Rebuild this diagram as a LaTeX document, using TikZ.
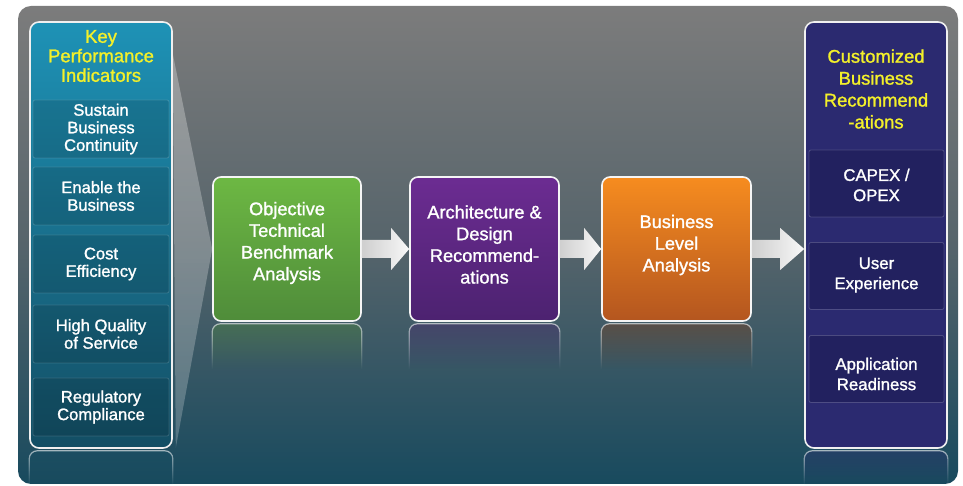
\documentclass[tikz,border=0pt]{standalone}
\usepackage{fontspec}
\setmainfont{Liberation Sans}
\newfontfamily\boldish{Liberation Sans}[FakeBold=1.3]
\usetikzlibrary{fadings,calc}
\definecolor{bgtop}{HTML}{7C7C7C}
\definecolor{bgmid}{HTML}{56646B}
\definecolor{bgbot}{HTML}{184A5E}
\definecolor{kpitop}{HTML}{1E92B6}
\definecolor{kpibot}{HTML}{134E64}
\definecolor{navy}{HTML}{2B2A70}
\definecolor{navydk}{HTML}{1C1B52}
\definecolor{gtop}{HTML}{6DB843}
\definecolor{gbot}{HTML}{4F8C3A}
\definecolor{ptop}{HTML}{6C2C92}
\definecolor{pbot}{HTML}{4C2270}
\definecolor{otop}{HTML}{F68C1F}
\definecolor{obot}{HTML}{B4561F}
\definecolor{ktxt}{HTML}{F3F02A}
\tikzfading[name=fadedown, top color=transparent!15, bottom color=transparent!100]
\tikzfading[name=wedgefade, top color=transparent!80, middle color=transparent!5, bottom color=transparent!90]
\tikzset{
  panel/.style={rounded corners=9pt, draw=white!88!gray, line width=1.6pt,
    minimum width=142pt, minimum height=426pt, inner sep=0pt},
  kpisub/.style={fill=black, fill opacity=.13, draw=white, draw opacity=.15,
    line width=.8pt, rounded corners=2pt, minimum width=136pt, minimum height=58pt,
    text=white, text opacity=1, align=center, inner sep=0pt,
    font=\boldish\fontsize{16.6}{17.6}\selectfont},
  navysub/.style={fill=navydk, fill opacity=.55, draw=white, draw opacity=.18,
    line width=.8pt, rounded corners=2pt, minimum width=135pt, minimum height=67pt,
    inner sep=0pt},
  mainbox/.style={rounded corners=8pt, draw=white!92!gray, line width=1.6pt,
    minimum width=148pt, minimum height=144pt, inner sep=0pt},
  boxtext/.style={text=white, align=center, inner sep=0pt,
    font=\boldish\fontsize{18.2}{21.7}\selectfont},
  subtext/.style={text=white, align=center, inner sep=0pt,
    font=\boldish\fontsize{16.8}{20.2}\selectfont},
  headtext/.style={text=ktxt, align=center, inner sep=0pt},
  blockarrow/.style={left color=white!62!gray, right color=white!94!gray},
  reflect/.style={draw=white, draw opacity=.7, line width=1.2pt,
    fill opacity=.45, path fading=fadedown, rounded corners=8pt}
}
\begin{document}
\begin{tikzpicture}[x=1pt,y=1pt]
\useasboundingbox (0,0) rectangle (963,486);
% background
\shade[rounded corners=13pt, top color=bgtop, bottom color=bgbot, middle color=bgmid]
  (18,2) rectangle (958,480);

% main boxes
\node[mainbox, top color=gtop, bottom color=gbot] (g) at (287,237) {};
\node[mainbox, top color=ptop, bottom color=pbot, minimum width=149pt] (p) at (484.5,237) {};
\node[mainbox, top color=otop, bottom color=obot, minimum width=149pt] (o) at (676.5,237) {};

% reflections of main boxes
\path[reflect, fill=gbot] ($(g.south west)+(0,-47)$) -- ($(g.south west)+(0,-2)$) -- ($(g.south east)+(0,-2)$) -- ($(g.south east)+(0,-47)$);
\path[reflect, fill=pbot] ($(p.south west)+(0,-47)$) -- ($(p.south west)+(0,-2)$) -- ($(p.south east)+(0,-2)$) -- ($(p.south east)+(0,-47)$);
\path[reflect, fill=obot!70!black] ($(o.south west)+(0,-47)$) -- ($(o.south west)+(0,-2)$) -- ($(o.south east)+(0,-2)$) -- ($(o.south east)+(0,-47)$);

\node[boxtext] (gt) at (287,243) {Objective\\Technical\\Benchmark\\Analysis};
\node[boxtext] (pt) at (484.5,241.5) {Architecture \&\\Design\\Recommend-\\ations};
\node[boxtext] (ot) at (676.5,241) {Business\\Level\\Analysis};

% left panel
\node[panel, top color=kpitop, bottom color=kpibot] (kpi) at (101,251) {};
\path[reflect, fill=kpibot] ($(kpi.south west)+(0,-36)$) -- ($(kpi.south west)+(0,-2)$) -- ($(kpi.south east)+(0,-2)$) -- ($(kpi.south east)+(0,-36)$);
\node[headtext, font=\boldish\fontsize{18.5}{19.5}\selectfont] (kpih) at (101,430) {Key\\Performance\\Indicators};
\node[kpisub] (k1) at (101,357) {Sustain\\Business\\Continuity};
\node[kpisub] (k2) at (101,290) {Enable the\\Business};
\node[kpisub] (k3) at (101,222) {Cost\\Efficiency};
\node[kpisub] (k4) at (101,152) {High Quality\\of Service};
\node[kpisub] (k5) at (101,79) {Regulatory\\Compliance};

% funnel wedge
\fill[white, fill opacity=.14]
  ($(kpi.north east)+(0,-33)$) -- (g.west) -- ($(kpi.south east)+(3,1)$) -- cycle;
\fill[white!90!gray, path fading=wedgefade]
  ($(kpi.north east)+(0,-33)$) -- (g.west) -- ($(kpi.south east)+(3,1)$) -- cycle;

% right panel
\node[panel, fill=navy] (rp) at (876,251) {};
\path[reflect, fill=navy] ($(rp.south west)+(0,-36)$) -- ($(rp.south west)+(0,-2)$) -- ($(rp.south east)+(0,-2)$) -- ($(rp.south east)+(0,-36)$);
\node[headtext, font=\boldish\fontsize{18.4}{21.9}\selectfont] (rph) at (876,397) {Customized\\Business\\Recommend\\-ations};
\node[navysub] (r1) at (876.5,302.5) {};
\node[navysub] (r2) at (876.5,210) {};
\node[navysub] (r3) at (876.5,117) {};
\node[subtext] (r1t) at (876.5,301) {CAPEX /\\OPEX};
\node[subtext] (r2t) at (876.5,211) {User\\Experience};
\node[subtext] (r3t) at (876.5,112) {Application\\Readiness};

% block arrows
\shade[blockarrow] ([yshift=9pt]g.east) -- ([xshift=-18pt,yshift=9pt]p.west) -- ([xshift=-18pt,yshift=21pt]p.west) -- (p.west) -- ([xshift=-18pt,yshift=-21pt]p.west) -- ([xshift=-18pt,yshift=-9pt]p.west) -- ([yshift=-9pt]g.east) -- cycle;
\shade[blockarrow] ([yshift=9pt]p.east) -- ([xshift=-17pt,yshift=9pt]o.west) -- ([xshift=-17pt,yshift=21pt]o.west) -- (o.west) -- ([xshift=-17pt,yshift=-21pt]o.west) -- ([xshift=-17pt,yshift=-9pt]o.west) -- ([yshift=-9pt]p.east) -- cycle;
\coordinate (a3tip) at ($(rp.west)+(0,-14)$);
\shade[blockarrow] ([yshift=9pt]o.east) -- ($(a3tip)+(-24,9)$) -- ($(a3tip)+(-24,21)$) -- (a3tip) -- ($(a3tip)+(-24,-21)$) -- ($(a3tip)+(-24,-9)$) -- ([yshift=-9pt]o.east) -- cycle;
\end{tikzpicture}
\end{document}
